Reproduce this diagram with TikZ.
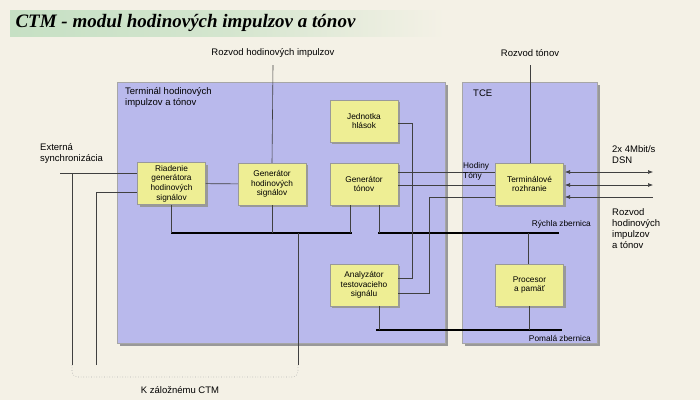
\documentclass[tikz,border=0pt]{standalone}
\usepackage{fontspec}
\setmainfont{Liberation Sans}
\newfontfamily\titlefont{Liberation Serif}
\usetikzlibrary{shadows,arrows.meta}
\definecolor{paper}{HTML}{F4F1E6}
\definecolor{panel}{HTML}{B9B9EC}
\definecolor{unit}{HTML}{EEEE94}
\definecolor{titlebg}{HTML}{C6E0C4}
\tikzset{
    panelbox/.style={draw=gray!70, fill=panel, drop shadow={shadow xshift=3pt, shadow yshift=-3pt, fill=gray!80, opacity=1}},
    unitbox/.style={draw=gray!80, fill=unit, minimum width=68pt, minimum height=42pt, align=center, font=\fontsize{8.3}{9.6}\selectfont, inner sep=1pt, drop shadow={shadow xshift=2pt, shadow yshift=-2pt, fill=gray!80, opacity=1}},
    wire/.style={draw=gray!50!black, line width=0.6pt},
    bus/.style={line width=2.6pt, black},
    lbl/.style={font=\fontsize{9.5}{11}\selectfont, align=left, inner sep=0pt},
    small/.style={font=\fontsize{8.3}{10.5}\selectfont},
}
\begin{document}
\begin{tikzpicture}[x=1pt, y=-1pt]
    \fill[paper] (0,0) rectangle (700,400);
    \shade[left color=titlebg, right color=paper, middle color=titlebg!70!paper] (10,10) rectangle (445,36);
    \node[anchor=west, font=\titlefont\bfseries\itshape\fontsize{19}{21}\selectfont] (title) at (12,23) {CTM - modul hodinových impulzov a tónov};
    % panels
    \path[panelbox] (117,82) rectangle (445,343);
    \path[panelbox] (462,82) rectangle (597,343);
    \node[lbl, anchor=north west] (termlbl) at (125,87) {Terminál hodinových\\impulzov a tónov};
    \node[lbl, anchor=north west] (tcelbl) at (473,90) {TCE};
    % units
    \node[unitbox] (riad) at (171.5,183.5) {Riadenie\\generátora\\hodinových\\signálov};
    \node[unitbox] (genh) at (272,184) {Generátor\\hodinových\\signálov};
    \node[unitbox] (jedn) at (364,121) {Jednotka\\hlások};
    \node[unitbox] (gent) at (364,184) {Generátor\\tónov};
    \node[unitbox] (anal) at (364,285) {Analyzátor\\testovacieho\\signálu};
    \node[unitbox] (term) at (529.5,184) {Terminálové\\rozhranie};
    \node[unitbox] (proc) at (529.5,285) {Procesor\\a pamäť};
    % buses
    \coordinate (busa) at (171,233); \coordinate (busb) at (352,233);
    \coordinate (busc) at (378,233); \coordinate (busd) at (559,233);
    \coordinate (buse) at (376,330); \coordinate (busf) at (562,330);
    \draw[bus] (busa) -- (busb);
    \draw[bus] (busc) -- (busd);
    \draw[bus] (buse) -- (busf);
    % outer ends
    \coordinate (ext) at (60,173);
    \coordinate (bk1) at (72,365); \coordinate (bk2) at (96,365); \coordinate (bk3) at (298,365);
    \coordinate (rozh) at (273,65); \coordinate (rozt) at (530,65);
    % wires
    \draw[wire] (ext) -- (ext -| riad.west);
    \draw[wire] (bk1) -- (bk1 |- ext);
    \draw[wire] (bk2) |- (riad.west |- 0,192);
    \draw[wire] (riad) -- (genh);
    \draw[wire] (riad.south) -- (riad.south |- busa);
    \draw[wire] (rozh) -- (genh.north);
    \draw[wire] (genh.south) -- (genh.south |- busa);
    \draw[wire] (bk3) -- (bk3 |- busa);
    \draw[wire, dotted, gray!60, rounded corners=6pt] (bk1) -- (72,377) -- (298,377) -- (bk3);
    \draw[wire] (gent.south -| 350,0) -- (350,233);
    \draw[wire] (gent.south -| 379,0) -- (379,233);
    \draw[wire] (jedn.east |- 0,123) -| (412,278) -- (anal.east |- 0,278);
    \draw[wire] (gent.east |- 0,172) -- (term.west |- 0,172);
    \draw[wire] (gent.east |- 0,185) -- (term.west |- 0,185);
    \draw[wire] (anal.east |- 0,293) -| (429,197) -- (term.west |- 0,197);
    \draw[wire] (anal.south -| 379,0) -- (379,330);
    \draw[wire] (rozt) -- (term.north -| rozt);
    \draw[wire] (528,233) -- (proc.north -| 528,0);
    \draw[wire] (proc.south) -- (proc.south |- buse);
    \draw[wire, {Latex[length=5pt,width=4pt]}-{Latex[length=5pt,width=4pt]}] (565,172) -- (653,172);
    \draw[wire, {Latex[length=5pt,width=4pt]}-{Latex[length=5pt,width=4pt]}] (565,185) -- (653,185);
    \draw[wire, {Latex[length=5pt,width=4pt]}-] (565,197) -- (653,197);
    % labels
    \node[lbl] (rozhlbl) at (273,53) {Rozvod hodinových impulzov};
    \node[lbl] (roztlbl) at (530,53) {Rozvod tónov};
    \node[lbl, anchor=north west] (extlbl) at (40,143) {Externá\\synchronizácia};
    \node[lbl, small, anchor=north west] (hodlbl) at (463,162) {Hodiny\\Tóny};
    \node[lbl, small, anchor=east] (rychl) at (591,224) {Rýchla zbernica};
    \node[lbl, small, anchor=east] (poml) at (591,338) {Pomalá zbernica};
    \node[lbl, anchor=north west] (dsn) at (612,145) {2x 4Mbit/s\\DSN};
    \node[lbl, anchor=north west] (rozv) at (612,208) {Rozvod\\hodinových\\impulzov\\a tónov};
    \node[lbl] (zal) at (180,390) {K záložnému CTM};
\end{tikzpicture}
\end{document}
